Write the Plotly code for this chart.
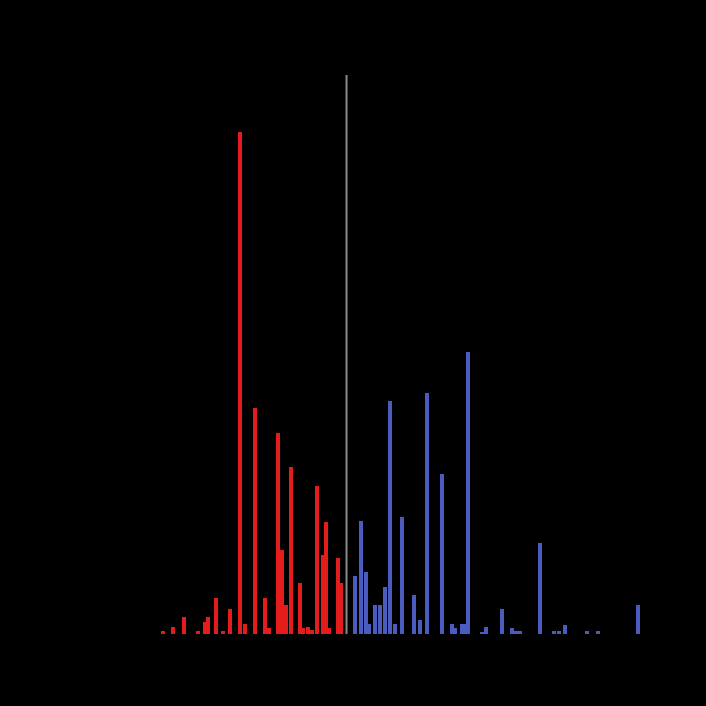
import plotly.graph_objects as go

# posiciones (eje x) y alturas de las barras
x_rojo = [-1.694, -1.602, -1.500, -1.370, -1.306, -1.278, -1.204, -1.139, -1.074,
          -0.981, -0.935, -0.843, -0.750, -0.713, -0.630, -0.593, -0.556, -0.509,
          -0.426, -0.398, -0.352, -0.315, -0.269, -0.213, -0.185, -0.157, -0.074,
          -0.046]
y_rojo = [0.5, 1.3, 3.0, 0.5, 2.1, 3.0, 6.4, 0.5, 4.5,
          89.8, 1.8, 40.4, 6.4, 1.1, 36.0, 15.0, 5.2, 29.9,
          9.1, 1.1, 1.3, 0.7, 26.5, 14.1, 20.0, 1.1, 13.6,
          9.1]
x_azul = [0.083, 0.139, 0.185, 0.213, 0.269, 0.315, 0.361, 0.407, 0.454, 0.519,
          0.630, 0.685, 0.750, 0.889, 0.981, 1.009, 1.074, 1.111, 1.130, 1.259,
          1.296, 1.444, 1.537, 1.574, 1.611, 1.796, 1.926, 1.972, 2.028, 2.231,
          2.333, 2.704]
y_azul = [10.4, 20.2, 11.1, 1.8, 5.2, 5.2, 8.4, 41.7, 1.8, 20.9,
          7.0, 2.5, 43.1, 28.6, 1.8, 1.1, 1.8, 1.8, 50.4, 0.4,
          1.3, 4.5, 1.1, 0.5, 0.5, 16.3, 0.5, 0.5, 1.6, 0.5,
          0.5, 5.2]
x_corte = 0.005

fig = go.Figure()
fig.add_trace(go.Bar(x=x_rojo, y=y_rojo, width=0.032, name='down',
                     marker=dict(color='#e51c1c', line=dict(width=0))))
fig.add_trace(go.Bar(x=x_azul, y=y_azul, width=0.032, name='up',
                     marker=dict(color='#4a5cc0', line=dict(width=0))))

fig.add_shape(type='line', x0=x_corte, x1=x_corte, xref='x', y0=0, y1=1, yref='paper',
              line=dict(color='#8a8a8a', width=2))

fig.update_layout(
    width=706, height=706,
    paper_bgcolor='black', plot_bgcolor='black',
    font=dict(color='black', size=12),
    showlegend=False,
    bargap=0,
    margin=dict(l=130, r=36, t=75, b=72),
)
fig.update_xaxes(range=[-2, 3], showgrid=False, zeroline=False, showline=False,
                 ticks='outside', ticklen=8, tickcolor='black')
fig.update_yaxes(range=[0, 100], showgrid=False, zeroline=False, showline=False,
                 ticks='outside', ticklen=8, tickcolor='black')

# fondo negro de la p치gina, sin margen del body
fig.write_html("out.html", config={'displayModeBar': False},
               post_script="document.body.style.margin='0';"
               "document.body.style.background='black';")
